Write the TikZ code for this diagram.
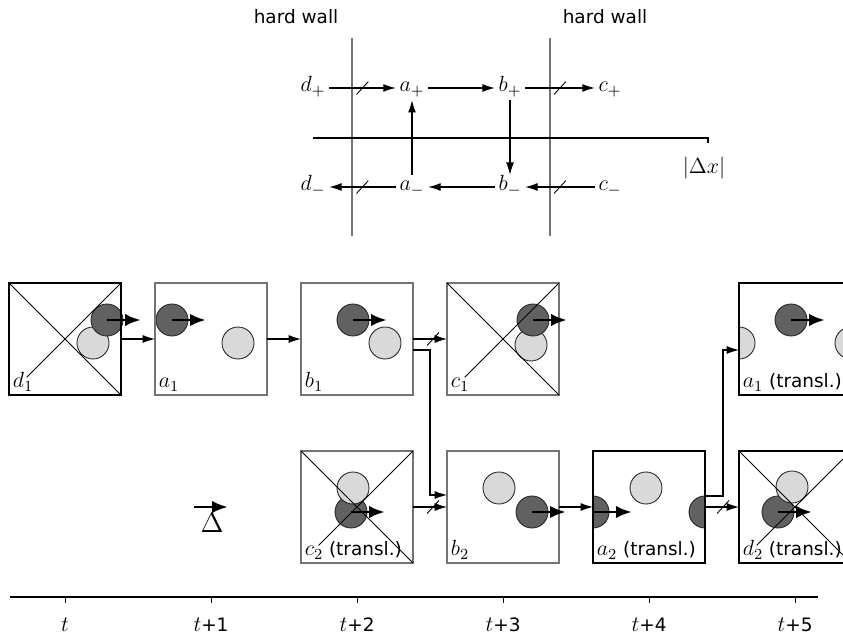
\RequirePackage{fix-cm}
\documentclass[tikz,border=0pt]{standalone}
\usepackage{fontspec}
\setsansfont{DejaVu Sans}[Scale=0.84]
\usetikzlibrary{arrows.meta, positioning, backgrounds}

\begin{document}
\begin{tikzpicture}[
  font=\fontsize{12.5}{15}\selectfont\sffamily,
  node distance = 1.12cm and 0.68cm,
  cell/.style = {
    rectangle, draw=black!55, line width=0.6pt,
    minimum size=2.24cm, inner sep=0pt, outer sep=0pt
  },
  keycell/.style = {cell, draw=black, line width=1.1pt},
  tag/.style = {anchor=south west, inner sep=2pt},
  state/.style = {inner sep=2pt, text height=1.6ex, text depth=0.6ex},
  arr/.style = {-{Latex[length=7pt, width=4.5pt]}, line width=0.6pt},
  push/.style = {-{Latex[length=9pt, width=7pt]}, line width=1.7pt},
  darkp/.style = {
    circle, minimum size=0.64cm, inner sep=0pt,
    fill=black!62, draw=black!85, line width=0.5pt
  },
  lightp/.style = {darkp, fill=black!15},
  xline/.style = {line width=0.5pt},
  wall/.style = {draw=black!55, line width=0.7pt},
  cut/.style = {
    minimum width=0.24cm, minimum height=0.26cm, inner sep=0pt,
    path picture={\draw[-, line width=0.5pt]
      (path picture bounding box.south west) --
      (path picture bounding box.north east);}
  }
]
\useasboundingbox (0,0) rectangle (16.86,12.70);

% walls and the +/- branches
\node (hwl) at (5.92,12.36) {hard wall};
\node (hwr) at (12.10,12.36) {hard wall};
\draw[wall] (7.04,11.94) -- (7.04,7.98);
\draw[wall] (11.00,11.94) -- (11.00,7.98);
\draw[line width=1.1pt] (6.26,9.94) -- (14.16,9.94) -- ++(0,-0.10);
\node (dx) at (14.08,9.34) {$\bigl|\Delta x\bigr|$};

\node[state] (dp) at (6.26,10.94) {$d_+$};
\node[state] (ap) at (8.24,10.94) {$a_+$};
\node[state] (bp) at (10.20,10.94) {$b_+$};
\node[state] (cp) at (12.20,10.94) {$c_+$};
\node[state] (dm) at (6.26,8.96) {$d_-$};
\node[state] (am) at (8.24,8.96) {$a_-$};
\node[state] (bm) at (10.20,8.96) {$b_-$};
\node[state] (cm) at (12.20,8.96) {$c_-$};

\draw[arr] (dp) -- node[cut] {} (ap);
\draw[arr] (ap) -- (bp);
\draw[arr] (bp) -- node[cut] {} (cp);
\draw[arr] (cm) -- node[cut] {} (bm);
\draw[arr] (bm) -- (am);
\draw[arr] (am) -- node[cut] {} (dm);
\draw[arr] (am) -- (ap);
\draw[arr] (bp) -- (bm);

% configurations
\node[keycell, label={[tag]south west:$d_1$}] (d1) at (1.30,5.92) {};
\node[cell, right=of d1, label={[tag]south west:$a_1$}] (a1) {};
\node[cell, right=of a1, label={[tag]south west:$b_1$}] (b1) {};
\node[cell, right=of b1, label={[tag]south west:$c_1$}] (c1) {};
\node[cell, below=of b1, label={[tag]south west:$c_2$ (transl.)}] (c2) {};
\node[cell, right=of c2, label={[tag]south west:$b_2$}] (b2) {};
\node[keycell, right=of b2, label={[tag]south west:$a_2$ (transl.)}] (a2) {};
\node[keycell, right=of a2, label={[tag]south west:$d_2$ (transl.)}] (d2) {};
\node[keycell, above=of d2, label={[tag]south west:$a_1$ (transl.)}] (a1t) {};

\begin{scope}[on background layer]
  \node[lightp] (d1light) at ([shift={(0.56,-0.08)}]d1.center) {};
  \node[darkp]  (d1dark)  at ([shift={(0.84,0.38)}]d1.center) {};
  \node[lightp] (a1light) at ([shift={(0.54,-0.08)}]a1.center) {};
  \node[darkp]  (a1dark)  at ([shift={(-0.78,0.38)}]a1.center) {};
  \node[lightp] (b1light) at ([shift={(0.56,-0.08)}]b1.center) {};
  \node[darkp]  (b1dark)  at ([shift={(-0.08,0.38)}]b1.center) {};
  \node[lightp] (c1light) at ([shift={(0.56,-0.12)}]c1.center) {};
  \node[darkp]  (c1dark)  at ([shift={(0.60,0.38)}]c1.center) {};
  \begin{scope}
    \clip (a1t.south west) rectangle (a1t.north east);
    \node[lightp] (a1tlightL) at ([shift={(-1.12,-0.08)}]a1t.center) {};
    \node[lightp] (a1tlightR) at ([shift={(1.12,-0.08)}]a1t.center) {};
  \end{scope}
  \node[darkp]  (a1tdark) at ([shift={(-0.08,0.38)}]a1t.center) {};

  \node[darkp]  (c2dark)  at ([shift={(-0.12,-0.10)}]c2.center) {};
  \node[lightp] (c2light) at ([shift={(-0.08,0.38)}]c2.center) {};
  \node[darkp]  (b2dark)  at ([shift={(0.58,-0.10)}]b2.center) {};
  \node[lightp] (b2light) at ([shift={(-0.08,0.38)}]b2.center) {};
  \begin{scope}
    \clip (a2.south west) rectangle (a2.north east);
    \node[darkp] (a2darkL) at ([shift={(-1.12,-0.10)}]a2.center) {};
    \node[darkp] (a2darkR) at ([shift={(1.12,-0.10)}]a2.center) {};
  \end{scope}
  \node[lightp] (a2light) at ([shift={(-0.06,0.38)}]a2.center) {};
  \node[darkp]  (d2dark)  at ([shift={(-0.34,-0.10)}]d2.center) {};
  \node[lightp] (d2light) at ([shift={(-0.06,0.40)}]d2.center) {};
\end{scope}

% crossed-out configurations
\draw[xline] (d1.north west) -- (d1.south east);
\draw[xline, shorten <=0.5cm] (d1.south west) -- (d1.north east);
\draw[xline] (c1.north west) -- (c1.south east);
\draw[xline, shorten <=0.5cm] (c1.south west) -- (c1.north east);
\draw[xline] (c2.north west) -- (c2.south east);
\draw[xline, shorten <=0.5cm] (c2.south west) -- (c2.north east);
\draw[xline] (d2.north west) -- (d2.south east);
\draw[xline, shorten <=0.5cm] (d2.south west) -- (d2.north east);

% displacements
\draw[push] (d1dark.center) -- ++(0.68,0);
\draw[push] (a1dark.center) -- ++(0.68,0);
\draw[push] (b1dark.center) -- ++(0.68,0);
\draw[push] (c1dark.center) -- ++(0.68,0);
\draw[push] (a1tdark.center) -- ++(0.68,0);
\draw[push] (c2dark.center) -- ++(0.68,0);
\draw[push] (b2dark.center) -- ++(0.68,0);
\draw[push] (a2darkL.center) -- ++(0.78,0);
\draw[push] (d2dark.center) -- ++(0.68,0);

\node[font=\fontsize{16}{18}\selectfont] (delta) at (4.24,2.24) {$\Delta$};
\draw[push] ([shift={(-0.36,0.32)}]delta.center) -- ++(0.68,0);

% transitions
\draw[arr] (d1) -- (a1);
\draw[arr] (a1) -- (b1);
\draw[arr] (b1) -- node[cut, pos=0.59] {} (c1);
\draw[arr] ([yshift=-0.22cm]b1.east) -- ++(0.34,0) |- ([yshift=0.24cm]b2.west);
\draw[arr] (c2) -- node[cut, pos=0.59] {} (b2);
\draw[arr] (b2) -- (a2);
\draw[arr] (a2) -- node[cut, pos=0.53] {} (d2);
\draw[arr] ([yshift=0.22cm]a2.east) -- ++(0.36,0) |- ([yshift=-0.22cm]a1t.west);

% time axis
\draw[line width=1.1pt] (0.20,0.76) -- (16.36,0.76);
\foreach \i in {0,...,5}
  \draw[line width=0.5pt] ({1.30+2.92*\i},0.76) -- ++(0,-0.12);
\node (t0) at (1.30,0.20) {$t$};
\node (t1) at (4.22,0.20) {$t$+1};
\node (t2) at (7.14,0.20) {$t$+2};
\node (t3) at (10.06,0.20) {$t$+3};
\node (t4) at (12.98,0.20) {$t$+4};
\node (t5) at (15.90,0.20) {$t$+5};
\end{tikzpicture}
\end{document}
